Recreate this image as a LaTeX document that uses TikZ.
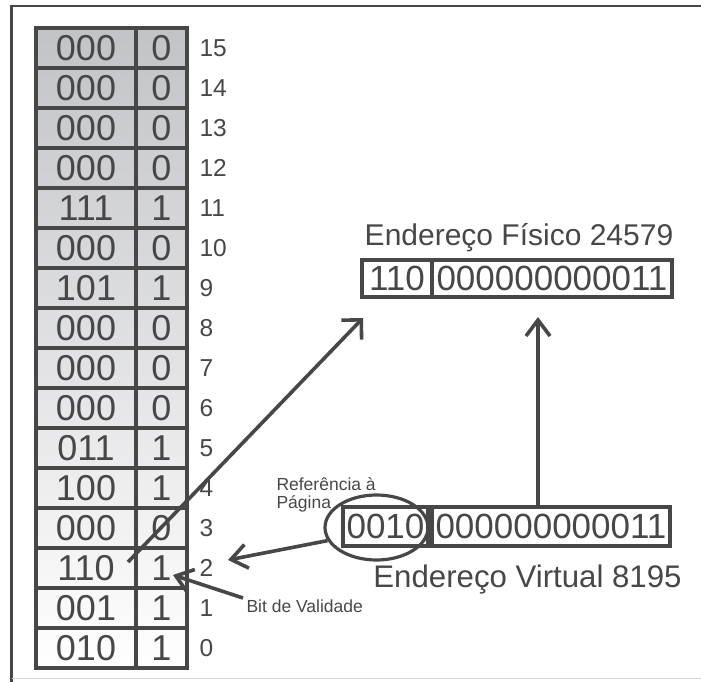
\documentclass[tikz,border=0pt]{standalone}
\usepackage{fontspec}
\setmainfont{Liberation Sans}
\usetikzlibrary{arrows.meta,shapes.geometric}
\definecolor{ink}{HTML}{474747}
\definecolor{topgray}{HTML}{C2C3C7}
\definecolor{faint}{HTML}{D8D8D8}
\begin{document}
\begin{tikzpicture}[x=1pt,y=-1pt,line width=3pt,draw=ink,text=ink,
  bitcell/.style={draw,rectangle,line width=3.8pt,inner sep=0pt,minimum height=40pt,font=\fontsize{36}{36}\selectfont},
  framecell/.style={bitcell,minimum width=100pt},
  validcell/.style={bitcell,minimum width=51pt},
  rownum/.style={anchor=base west,inner sep=0pt,font=\fontsize{24.5}{24.5}\selectfont},
  addrbox/.style={draw,rectangle,line width=3.2pt,inner sep=0pt,font=\fontsize{35}{35}\selectfont},
  bigtitle/.style={anchor=base,inner sep=0pt},
  smalllabel/.style={anchor=base west,inner sep=0pt,font=\fontsize{17.5}{17.5}\selectfont},
  arrowline/.style={line width=3.6pt},
  barb/.style={arrowline,-{Straight Barb[length=14pt,width=28pt]}},
  barbnarrow/.style={arrowline,-{Straight Barb[length=16pt,width=24pt]}}]
\useasboundingbox (0,0) rectangle (701,682);
% outer frame
\draw[line width=2.5pt] (701,6) -- (11.5,6) -- (11.5,682);
\draw[faint,line width=1pt] (11.5,678) -- (701,678);
% table background gradient
\shade[top color=topgray,bottom color=white,draw=none] (36,28) rectangle (187,668);
% table rows
\foreach \i/\f/\v in {15/000/0,14/000/0,13/000/0,12/000/0,11/111/1,10/000/0,9/101/1,8/000/0,7/000/0,6/000/0,5/011/1,4/100/1,3/000/0,2/110/1,1/001/1,0/010/1}{
  \pgfmathsetmacro\yy{48+40*(15-\i)}
  \node[framecell] (f\i) at (86,\yy) {\f};
  \node[validcell] (v\i) at (161.5,\yy) {\v};
  \node[rownum] (n\i) at (198,\yy+8.5) {\i};
}
% physical address
\node[bigtitle,font=\fontsize{30}{30}\selectfont] (ptitle) at (519,245) {Endereço Físico 24579};
\node[addrbox,minimum width=70pt,minimum height=37pt] (p1) at (397,278.5) {110};
\node[addrbox,minimum width=240pt,minimum height=37pt] (p2) at (552,278.5) {000000000011};
% virtual address
\node[addrbox,minimum width=85pt,minimum height=39pt] (q1) at (385.5,526.5) {0010};
\node[addrbox,minimum width=238pt,minimum height=39pt] (q2) at (551,526.5) {000000000011};
\node[bigtitle,font=\fontsize{31.2}{31.2}\selectfont] (vtitle) at (527.5,587) {Endereço Virtual 8195};
% ellipse
\node[ellipse,draw,line width=3.2pt,inner sep=0pt,minimum width=103pt,minimum height=65pt] (ell) at (376.5,527.5) {};
\node[smalllabel] (ref1) at (275,490) {Referência à};
\node[smalllabel] (ref2) at (275,508) {Página};
\node[smalllabel] (bit) at (245,612) {Bit de Validade};
% arrow coordinates
\coordinate (aStart) at (128,562);
\coordinate (aTip) at (363,318);
\coordinate (bStart) at (538,507);
\coordinate (bTip) at (538,317);
\coordinate (cTip) at (228,560);
\coordinate (dStart) at (243,598);
\coordinate (dTip) at (173,575);
% arrows
\draw[barb] (aStart) -- (aTip);
\draw[barbnarrow] (bStart) -- (bTip);
\draw[barbnarrow] (ell.195) -- (cTip);
\draw[barbnarrow] (dStart) -- (dTip);
\end{tikzpicture}
\end{document}
